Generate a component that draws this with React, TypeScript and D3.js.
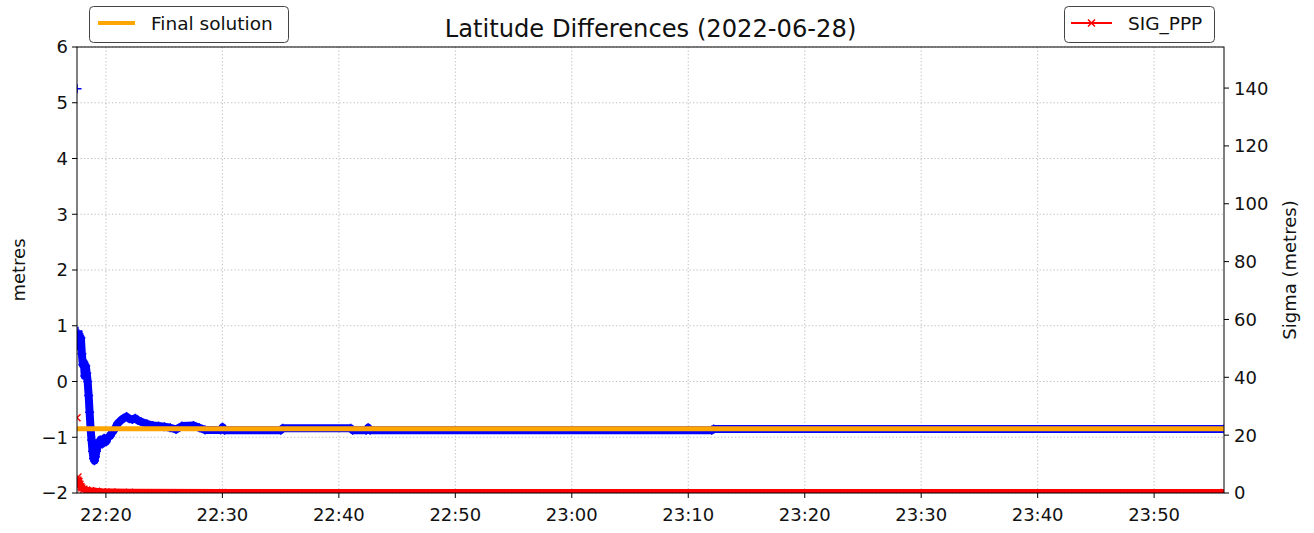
import React from "react";
import * as d3 from "d3";

// ---- data ----
const latTimes = [
  "22:17:31", "22:17:33", "22:17:36", "22:17:41", "22:17:46", "22:17:51", "22:17:56",
  "22:18:01", "22:18:06", "22:18:11", "22:18:16", "22:18:21", "22:18:26", "22:18:31",
  "22:18:36", "22:18:41", "22:18:46", "22:18:51", "22:18:56", "22:19:01", "22:19:06",
  "22:19:11", "22:19:21", "22:19:31", "22:19:41", "22:19:51", "22:20:01", "22:20:11",
  "22:20:21", "22:20:31", "22:20:46", "22:21:01", "22:21:16", "22:21:31", "22:21:46",
  "22:22:01", "22:22:16", "22:22:31", "22:22:46", "22:23:01", "22:23:31", "22:24:01",
  "22:24:31", "22:25:01", "22:25:31", "22:26:01", "22:26:31", "22:27:31", "22:28:01",
  "22:28:31", "22:29:51", "22:30:01", "22:30:11", "22:35:01", "22:35:11", "22:41:01",
  "22:41:11", "22:42:21", "22:42:31", "22:42:41", "23:12:01", "23:12:11", "23:56:00",
];
const latDiff: (number | null)[] = [
  5.25, null, 0.9, 0.85, 0.62, 0.78, 0.5,
  0.3, 0.35, 0.1, 0.28, 0.15, 0.0, -0.25,
  -0.55, -0.85, -1.05, -1.25, -1.38, -1.42, -1.35,
  -1.25, -1.12, -1.05, -1.12, -1.02, -1.08, -1.0,
  -0.98, -0.92, -0.85, -0.75, -0.7, -0.66, -0.63,
  -0.67, -0.68, -0.66, -0.7, -0.72, -0.76, -0.79,
  -0.8, -0.81, -0.83, -0.86, -0.8, -0.79, -0.83,
  -0.87, -0.87, -0.82, -0.875, -0.875, -0.84, -0.84,
  -0.875, -0.875, -0.83, -0.875, -0.875, -0.85, -0.85,
];

const sigTimes = [
  "22:17:31", "22:17:33", "22:17:36", "22:17:41", "22:17:46", "22:17:51", "22:17:56",
  "22:18:06", "22:18:21", "22:18:41", "22:19:11", "22:19:41", "22:20:31", "22:22:01",
  "22:30:01", "23:56:00",
];
const sigPPP: (number | null)[] = [
  26, null, 5.5, 4.0, 3.0, 2.2, 1.7,
  1.3, 1.0, 0.8, 0.6, 0.45, 0.35, 0.25,
  0.2, 0.2,
];

const finalSolution = -0.848;

const xTickLabels = [
  "22:20", "22:30", "22:40", "22:50", "23:00", "23:10", "23:20", "23:30", "23:40", "23:50",
];
const leftTicks = [-2, -1, 0, 1, 2, 3, 4, 5, 6];
const rightTicks = [0, 20, 40, 60, 80, 100, 120, 140];

const title = "Latitude Differences (2022-06-28)";

// ---- layout ----
const W = 1314;
const H = 533;
const L = 77;
const R = 1224;
const T = 47;
const B = 493;
const FONT = "DejaVu Sans, sans-serif";
const TXT = "#111";

const parse = d3.timeParse("%H:%M:%S");
const parseHM = d3.timeParse("%H:%M");

type Pt = { t: Date; v: number | null };

const latData: Pt[] = latTimes.map((s, i) => ({ t: parse(s)!, v: latDiff[i] }));
const sigData: Pt[] = sigTimes.map((s, i) => ({ t: parse(s)!, v: sigPPP[i] }));

export default function App() {
  const allTimes = [...latData, ...sigData].map((d) => d.t);
  const x = d3.scaleTime().domain(d3.extent(allTimes) as [Date, Date]).range([L, R]);
  const y = d3.scaleLinear().domain([-2, 6]).range([B, T]);
  const y2 = d3.scaleLinear().domain([0, 154.2]).range([B, T]);

  const latLine = d3
    .line<Pt>()
    .defined((d) => d.v != null)
    .x((d) => x(d.t))
    .y((d) => y(d.v as number));
  const sigLine = d3
    .line<Pt>()
    .defined((d) => d.v != null)
    .x((d) => x(d.t))
    .y((d) => y2(d.v as number));

  const xTicks = xTickLabels.map((s) => parseHM(s)!);
  const fmt = d3.timeFormat("%H:%M");
  const fmtY = (v: number) => (v < 0 ? "\u2212" + Math.abs(v) : String(v));

  const plus = "M-4.5,0H4.5M0,-4.5V4.5";
  const cross = "M-3.5,-3.5L3.5,3.5M-3.5,3.5L3.5,-3.5";

  const [x0, x1] = x.domain();

  return (
    <svg
      width={W}
      height={H}
      style={{ position: "absolute", left: 0, top: 0, background: "#fff" }}
      fontFamily={FONT}
    >
      <defs>
        <clipPath id="plotclip">
          <rect x={L} y={T} width={R - L} height={B - T} />
        </clipPath>
      </defs>
      <rect x={0} y={0} width={W} height={H} fill="#fff" />

      {/* grid */}
      <g stroke="#b8b8b8" strokeWidth={0.9} strokeDasharray="1.3,2.2">
        {xTicks.map((t, i) => (
          <line key={"gx" + i} x1={x(t)} x2={x(t)} y1={T} y2={B} />
        ))}
        {leftTicks.map((v, i) => (
          <line key={"gy" + i} x1={L} x2={R} y1={y(v)} y2={y(v)} />
        ))}
      </g>

      {/* data */}
      <g clipPath="url(#plotclip)">
        <path d={latLine(latData) || ""} fill="none" stroke="#0000ff" strokeWidth={8} strokeLinejoin="round" />
        <path d={latLine(latData) || ""} fill="none" stroke="#0000ff" strokeWidth={1.5} />
        {latData
          .filter((d) => d.v != null)
          .map((d, i) => (
            <path
              key={"lm" + i}
              d={plus}
              transform={`translate(${x(d.t)},${y(d.v as number)})`}
              stroke="#0000ff"
              strokeWidth={1.5}
              fill="none"
            />
          ))}
        <line
          x1={x(x0)}
          x2={x(x1)}
          y1={y(finalSolution)}
          y2={y(finalSolution)}
          stroke="#ffa500"
          strokeWidth={5}
        />
        <path d={sigLine(sigData) || ""} fill="none" stroke="#ff0000" strokeWidth={7} strokeLinejoin="round" />
        {sigData
          .filter((d) => d.v != null)
          .map((d, i) => (
            <path
              key={"sm" + i}
              d={cross}
              transform={`translate(${x(d.t)},${y2(d.v as number)})`}
              stroke="#ff0000"
              strokeWidth={1.5}
              fill="none"
            />
          ))}
      </g>

      {/* spines */}
      <rect x={L} y={T} width={R - L} height={B - T} fill="none" stroke="#000" strokeWidth={1} />

      {/* x axis */}
      <g fontSize={18} fill={TXT}>
        {xTicks.map((t, i) => (
          <g key={"xt" + i}>
            <line x1={x(t)} x2={x(t)} y1={B} y2={B + 5} stroke="#000" />
            <text x={x(t)} y={521} textAnchor="middle">
              {fmt(t)}
            </text>
          </g>
        ))}
      </g>

      {/* left axis */}
      <g fontSize={18} fill={TXT}>
        {leftTicks.map((v, i) => (
          <g key={"yl" + i}>
            <line x1={L - 5} x2={L} y1={y(v)} y2={y(v)} stroke="#000" />
            <text x={L - 9} y={y(v)} dy="0.36em" textAnchor="end">
              {fmtY(v)}
            </text>
          </g>
        ))}
      </g>

      {/* right axis */}
      <g fontSize={18} fill={TXT}>
        {rightTicks.map((v, i) => (
          <g key={"yr" + i}>
            <line x1={R} x2={R + 5} y1={y2(v)} y2={y2(v)} stroke="#000" />
            <text x={R + 10} y={y2(v)} dy="0.36em" textAnchor="start">
              {v}
            </text>
          </g>
        ))}
      </g>

      {/* axis labels */}
      <text
        transform={`translate(25,${(T + B) / 2}) rotate(-90)`}
        textAnchor="middle"
        fontSize={18}
        fill={TXT}
      >
        metres
      </text>
      <text
        transform={`translate(1296,${(T + B) / 2}) rotate(-90)`}
        textAnchor="middle"
        fontSize={18}
        fill={TXT}
      >
        Sigma (metres)
      </text>

      {/* title */}
      <text x={(L + R) / 2} y={37} textAnchor="middle" fontSize={24.2} fill={TXT}>
        {title}
      </text>

      {/* legend left */}
      <g>
        <rect x={89.5} y={6.5} width={199} height={36} rx={4} fill="#fff" fillOpacity={0.8} stroke="#444" strokeWidth={1} />
        <line x1={98} x2={135} y1={23} y2={23} stroke="#ffa500" strokeWidth={4} />
        <text x={151} y={23} dy="0.36em" fontSize={18.5} fill={TXT}>
          Final solution
        </text>
      </g>

      {/* legend right */}
      <g>
        <rect x={1064.5} y={6.5} width={150} height={36} rx={4} fill="#fff" fillOpacity={0.8} stroke="#444" strokeWidth={1} />
        <line x1={1071} x2={1112} y1={23} y2={23} stroke="#ff0000" strokeWidth={2} />
        <path d={cross} transform="translate(1091.5,23)" stroke="#ff0000" strokeWidth={1.5} fill="none" />
        <text x={1128} y={23} dy="0.36em" fontSize={18.5} fill={TXT}>
          SIG_PPP
        </text>
      </g>
    </svg>
  );
}
